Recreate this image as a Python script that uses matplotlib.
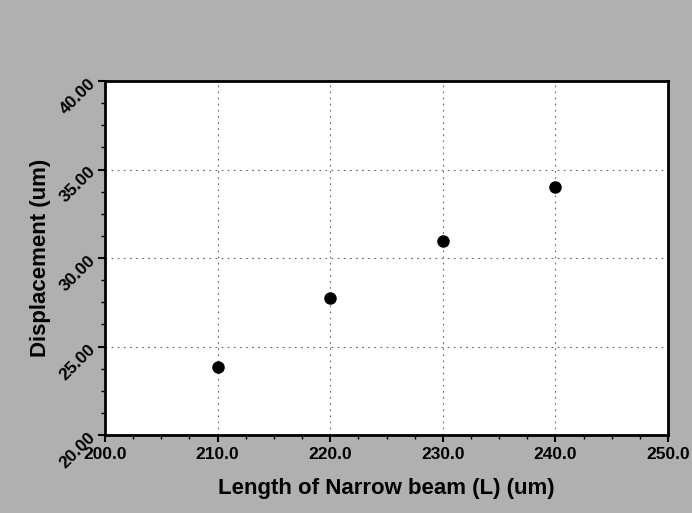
import matplotlib.pyplot as plt
from matplotlib.ticker import MultipleLocator

# beam length vs displacement
length_um = [210.0, 220.0, 230.0, 240.0]
displacement_um = [23.85, 27.75, 30.95, 34.0]


def main():
    plt.rcParams['font.family'] = ['Liberation Sans', 'DejaVu Sans']
    plt.rcParams['font.weight'] = 'bold'

    fig = plt.figure(figsize=(6.92, 5.13), dpi=100, facecolor='#b0b0b0')
    ax = fig.add_axes([105 / 692, 1 - 435 / 513, (668 - 105) / 692, (435 - 81) / 513])
    ax.set_facecolor('white')

    ax.plot(length_um, displacement_um, 'o', color='black', markersize=8, zorder=3)

    ax.set_xlim(200, 250)
    ax.set_ylim(20, 40)
    ax.xaxis.set_major_locator(MultipleLocator(10))
    ax.xaxis.set_minor_locator(MultipleLocator(2.5))
    ax.yaxis.set_major_locator(MultipleLocator(5))
    ax.yaxis.set_minor_locator(MultipleLocator(1.25))
    ax.set_xticklabels([f"{v:.1f}" for v in ax.get_xticks()])
    ax.set_yticklabels([f"{v:.2f}" for v in ax.get_yticks()], rotation=45,
                       va='center', ha='right', rotation_mode='anchor')

    ax.tick_params(which='major', direction='out', length=5, width=1.5, labelsize=12.5)
    ax.tick_params(which='minor', direction='out', length=3, width=1)
    for s in ax.spines.values():
        s.set_linewidth(2)

    ax.grid(True, which='major', color='#666666', linestyle=(0, (1.5, 4)), linewidth=0.8)

    ax.set_xlabel("Length of Narrow beam (L) (um)", fontsize=16, fontweight='bold', labelpad=12)
    ax.set_ylabel("Displacement (um)", fontsize=16, fontweight='bold', labelpad=4)

    plt.savefig("out.png", dpi=100, facecolor=fig.get_facecolor())


if __name__ == "__main__":
    main()
